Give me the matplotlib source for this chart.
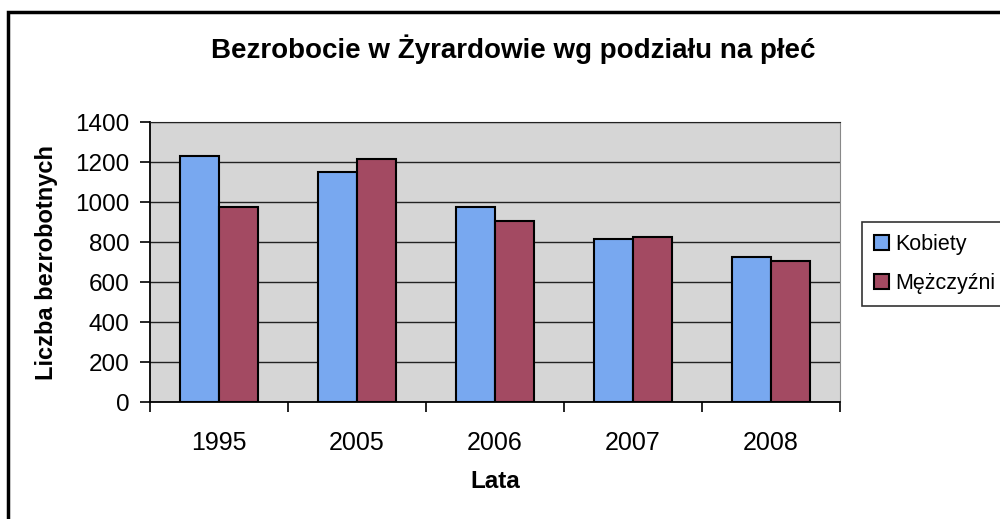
import numpy as np
import matplotlib.pyplot as plt
from matplotlib.patches import Rectangle

lata = ['1995', '2005', '2006', '2007', '2008']
kobiety = [1230, 1150, 975, 815, 725]
mezczyzni = [975, 1215, 905, 825, 705]

plt.rcParams['font.family'] = ['Liberation Sans', 'DejaVu Sans']

fig = plt.figure(figsize=(10, 5.19), dpi=100)
ax = fig.add_axes([0.15, 0.2254, 0.69, 0.5390])
ax.set_facecolor('#d6d6d6')

x = np.arange(len(lata))
w = 0.2857
ax.bar(x - w / 2, kobiety, w, color='#78a8f0', edgecolor='black', linewidth=1.5, label='Kobiety', zorder=3)
ax.bar(x + w / 2, mezczyzni, w, color='#a34a62', edgecolor='black', linewidth=1.5, label='Mężczyźni', zorder=3)

ax.set_xlim(-0.5, len(lata) - 0.5)
ax.set_ylim(0, 1400)
ax.set_yticks(range(0, 1401, 200))
ax.yaxis.grid(True, color='#222222', linewidth=1.0, zorder=1)
ax.set_axisbelow(True)

ax.set_xticks(x)
ax.set_xticklabels(lata)
ax.set_xticks(np.arange(-0.5, len(lata)), minor=True)
ax.tick_params(axis='x', which='major', length=0, pad=21, labelsize=18)
ax.tick_params(axis='x', which='minor', length=7, width=1.2, direction='out')
ax.tick_params(axis='y', length=7, width=1.2, pad=8, labelsize=17.5)

for s in ['left', 'bottom']:
    ax.spines[s].set_linewidth(1.3)
ax.spines['top'].set_color('#222222')
ax.spines['right'].set_color('#888888')

ax.set_xlabel('Lata', fontsize=17.5, fontweight='bold', labelpad=11)
ax.set_ylabel('Liczba bezrobotnych', fontsize=17, fontweight='bold', labelpad=12)
fig.text(0.513, 0.905, 'Bezrobocie w Żyrardowie wg podziału na płeć',
         ha='center', va='center', fontsize=20, fontweight='bold')

leg = fig.legend(loc='upper left', bbox_to_anchor=(0.862, 1 - 222 / 519), fontsize=15.5,
                 frameon=True, fancybox=False, edgecolor='black', handlelength=0.7,
                 handleheight=0.7, handletextpad=0.3, labelspacing=0.85, borderpad=0.55,
                 borderaxespad=0)
leg.get_frame().set_linewidth(1.2)

fig.patches.append(Rectangle((0.008, -0.1), 1.1, 1.1 - 12 / 519, transform=fig.transFigure,
                             fill=False, edgecolor='black', linewidth=2.5))

fig.savefig('out.png', dpi=100)
